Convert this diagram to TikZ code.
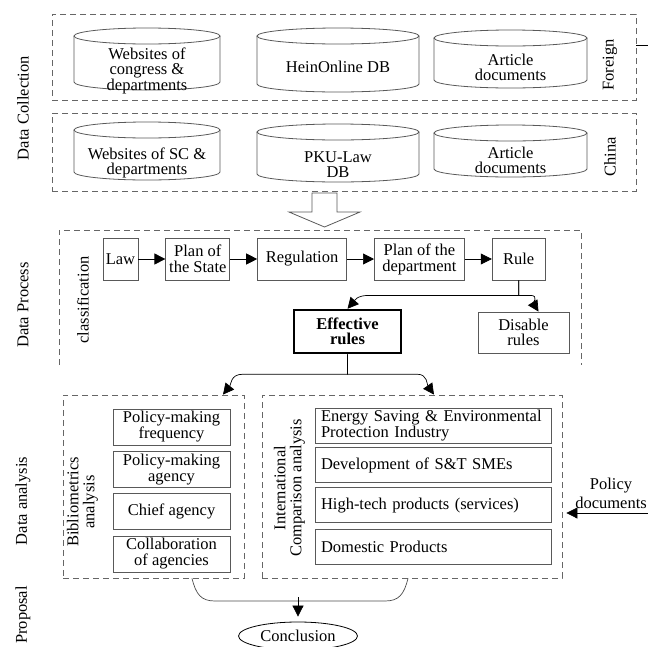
\documentclass[tikz,border=0pt]{standalone}
\usepackage{fontspec}
\setmainfont{Liberation Serif}
\usetikzlibrary{positioning,arrows.meta,shapes.geometric,fit}

\newcommand\dbcyl[7]{%
  \draw[dbline] ({(#2+#3)/2},#4+8) ellipse[x radius={(#3-#2)/2*1pt}, y radius=8pt];
  \draw[dbline] (#2,#4+8) -- (#2,#5-8) arc[start angle=180, end angle=360, x radius={(#3-#2)/2*1pt}, y radius=8pt] -- (#3,#4+8);
  \node[dbtext] (#1) at ({(#2+#3)/2},#6) {#7};
}

\begin{document}
\begin{tikzpicture}[x=1pt, y=-1pt, font={\fontsize{16.5}{16}\selectfont},
  box/.style={draw=black!65, line width=0.8pt, align=center, inner sep=2pt},
  flow/.style={box, minimum height=42pt},
  item/.style={box, minimum width=117pt, minimum height=36pt},
  topic/.style={box, text width=224pt, align=left, inner xsep=6pt, minimum height=35pt},
  frame/.style={draw=black!60, line width=0.8pt, dash pattern=on 6pt off 4pt, inner sep=0pt},
  dbline/.style={draw=black!65, line width=0.8pt},
  dbtext/.style={align=center, inner sep=0pt, font={\fontsize{16.5}{15}\selectfont}},
  side/.style={rotate=90, align=center},
  link/.style={line width=0.7pt},
  arr/.style={link, -{Triangle[length=11pt,width=11pt]}}]
  \useasboundingbox (0,0) rectangle (648,646);

  \node[frame, fit={(52,14) (636,100)}] (fbox) {};
  \node[frame, fit={(52,113) (636,191)}] (cbox) {};
  \dbcyl{fweb}{74}{220}{28}{90}{71}{\fontsize{16.5}{13.5}\selectfont Websites of\\congress \&\\departments}
  \dbcyl{hein}{257}{419}{28}{92}{67}{HeinOnline DB}
  \dbcyl{fart}{434}{587}{30}{88}{67}{Article\\documents}
  \dbcyl{cweb}{74}{220}{122}{180}{163}{Websites of SC \&\\departments}
  \dbcyl{pku}{257}{419}{124}{182}{165}{PKU-Law\\DB}
  \dbcyl{cart}{434}{587}{125}{177}{160}{Article\\documents}
  \node[side] (foreign) at (610,65) {Foreign};
  \node[side] (china) at (610,157) {China};
  \node[side] (dcol) at (23,108) {Data Collection};
  \coordinate (fout) at (648,45);
  \draw[link] (fout -| fbox.east) -- (fout);

  \draw[dbline] (312,193) -- (312,212) -- (289,212) -- (324.5,227) -- (360,212) -- (337,212) -- (337,193) -- cycle;

  \draw[frame] (59,365) -- (59,230) -- (581,230) -- (581,365);
  \node[side] (dproc) at (23,305) {Data Process};
  \node[side] (cls) at (83,300) {classification};
  \node[flow, minimum width=35pt] (law) at (120.5,259) {Law};
  \node[flow, minimum width=64pt, right=27pt of law] (plan) {Plan of\\the State};
  \node[flow, minimum width=89pt, right=27pt of plan] (reg) {Regulation};
  \node[flow, minimum width=90pt, right=27pt of reg] (dept) {Plan of the\\department};
  \node[flow, minimum width=53pt, right=27pt of dept] (rule) {Rule};
  \draw[arr] (law) -- (plan);
  \draw[arr] (plan) -- (reg);
  \draw[arr] (reg) -- (dept);
  \draw[arr] (dept) -- (rule);
  \node[draw, line width=2.5pt, align=center, minimum width=107pt, minimum height=43pt,
    font={\fontsize{16.5}{15}\selectfont\bfseries}] (eff) at (347.5,331.5) {Effective\\rules};
  \node[box, minimum width=91pt, minimum height=41pt, font={\fontsize{16.5}{15.5}\selectfont}] (dis) at (523.5,332.5) {Disable\\rules};
  \draw[arr] (rule.south) -- ++(0,15) -- ++(-150,0) .. controls +(-12,0) and +(7,-8) .. (eff.north);
  \draw[arr] (rule.south) -- ++(0,15) -- ++(12,0) .. controls +(8,0) and +(-5,-8) .. ([xshift=15pt]dis.north);

  \node[frame, fit={(63,395) (244,578)}] (bib) {};
  \node[frame, fit={(262,395) (562,578)}] (intl) {};
  \draw[arr] (eff.south) -- ++(0,20) -- ++(-105,0) .. controls +(-12,0) and +(8,-10) .. ([xshift=69.5pt]bib.north);
  \draw[arr] (eff.south) -- ++(0,20) -- ++(70,0) .. controls +(10,0) and +(-7,-10) .. ([xshift=22pt]intl.north);
  \node[side] (danl) at (23,501) {Data analysis};
  \node[side] (bibl) at (82.5,502) {Bibliometrics\\analysis};
  \node[side] (intll) at (289.5,488) {International\\Comparison analysis};
  \node[item] (freq) at (171.5,427) {Policy-making\\frequency};
  \node[item, below=5.5pt of freq] (agency) {Policy-making\\agency};
  \node[item, below=5.5pt of agency] (chief) {Chief agency};
  \node[item, below=5.5pt of chief] (collab) {Collaboration\\of agencies};
  \node[topic] (energy) at (433,425.5) {Energy Saving \& Environmental\\Protection Industry};
  \node[topic, below=4pt of energy] (sme) {Development of S\&T SMEs};
  \node[topic, below=4pt of sme] (htech) {High-tech products (services)};
  \node[topic, below=6pt of htech] (dom) {Domestic Products};

  \node[align=center, font={\fontsize{16.5}{19}\selectfont}] (pol) at (611,493) {Policy\\documents};
  \coordinate (pin) at (648,513);
  \draw[arr, shorten >=4pt] (pin) -- (pin -| intl.east);

  \node[side] (prop) at (23,615) {Proposal};
  \coordinate (mrg) at (298,601);
  \node[draw, ellipse, line width=0.8pt, minimum width=119pt, minimum height=28pt, inner sep=1pt] (concl) at (298,636) {Conclusion};
  \draw[link, draw=black!70] ([xshift=38.5pt]bib.south) .. controls +(4,16) and +(-14,0) .. ([xshift=-83pt]mrg)
    -- ([xshift=87pt]mrg) .. controls +(14,0) and +(-4,16) .. ([xshift=-4pt]intl.south);
  \draw[arr, shorten >=5pt] ([yshift=4pt]mrg) -- (concl);
\end{tikzpicture}
\end{document}
